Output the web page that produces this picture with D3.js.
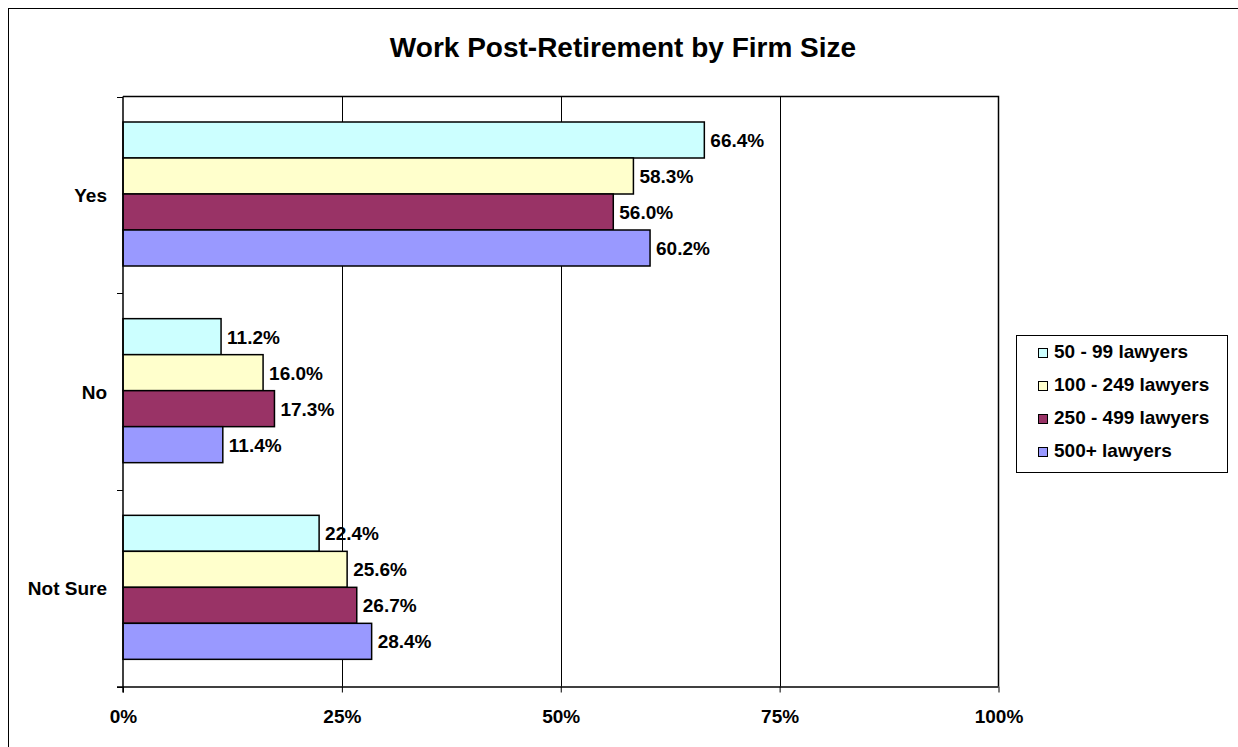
<!DOCTYPE html>
<html>
<head>
<meta charset="utf-8">
<script src="https://cdn.jsdelivr.net/npm/d3@7"></script>
<style>
  body { margin: 0; background: #fff; }
  svg { display: block; font-family: "Liberation Sans", Arial, sans-serif; }
</style>
</head>
<body>
<svg id="chart" width="1238" height="747"></svg>
<script>
const categories = ["Yes", "No", "Not Sure"];
const seriesNames = ["50 - 99 lawyers", "100 - 249 lawyers", "250 - 499 lawyers", "500+ lawyers"];
const seriesColors = ["#CCFFFF", "#FFFFCC", "#993366", "#9999FF"];
const values50to99 = [66.4, 11.2, 22.4];
const values100to249 = [58.3, 16.0, 25.6];
const values250to499 = [56.0, 17.3, 26.7];
const values500plus = [60.2, 11.4, 28.4];
const xTicks = [0, 25, 50, 75, 100];

const seriesValues = [values50to99, values100to249, values250to499, values500plus];
const labelSize = 19;

const svg = d3.select("#chart");

// outer frame
svg.append("rect")
  .attr("x", 8.5).attr("y", 8.5)
  .attr("width", 1240).attr("height", 750)
  .attr("fill", "none").attr("stroke", "#000").attr("stroke-width", 1);

const plot = { left: 123, right: 998.5, top: 96.5, bottom: 686.5 };

const x = d3.scaleLinear().domain([0, 100]).range([plot.left, plot.right]);
const y0 = d3.scaleBand().domain(categories).range([plot.top, plot.bottom]);
const y1 = d3.scaleBand().domain(seriesNames).range([25.5, 169.5]);

// title
svg.append("text")
  .attr("x", 623).attr("y", 57)
  .attr("text-anchor", "middle")
  .attr("font-size", 28).attr("font-weight", "bold")
  .text("Work Post-Retirement by Firm Size");

// vertical gridlines
svg.append("g").selectAll("line")
  .data(xTicks.filter(t => t > 0 && t < 100))
  .join("line")
  .attr("x1", d => Math.round(x(d)) + 0.5).attr("x2", d => Math.round(x(d)) + 0.5)
  .attr("y1", plot.top).attr("y2", plot.bottom)
  .attr("stroke", "#000").attr("stroke-width", 1);

// plot border (top and right)
svg.append("path")
  .attr("d", `M${plot.left},${plot.top}H${plot.right}V${plot.bottom}`)
  .attr("fill", "none").attr("stroke", "#000").attr("stroke-width", 1.5);

// bars
const groups = svg.append("g").selectAll("g")
  .data(categories)
  .join("g")
  .attr("transform", c => `translate(0,${y0(c)})`);

groups.each(function(c, ci) {
  const g = d3.select(this);
  const rows = seriesNames.map((s, si) => ({ s, si, v: seriesValues[si][ci] }));
  g.selectAll("rect")
    .data(rows)
    .join("rect")
    .attr("x", x(0))
    .attr("y", d => y1(d.s))
    .attr("width", d => x(d.v) - x(0))
    .attr("height", y1.bandwidth())
    .attr("fill", d => seriesColors[d.si])
    .attr("stroke", "#000").attr("stroke-width", 1.5);
  g.selectAll("text")
    .data(rows)
    .join("text")
    .attr("x", d => x(d.v) + 6)
    .attr("y", d => y1(d.s) + y1.bandwidth() / 2 + 7)
    .attr("font-size", labelSize).attr("font-weight", "bold")
    .text(d => d.v.toFixed(1) + "%");
});

// x axis
const xAxis = d3.axisBottom(x).tickValues(xTicks).tickFormat(d => d + "%").tickSize(6).tickPadding(17);
const gx = svg.append("g").attr("transform", `translate(0,${plot.bottom})`).call(xAxis);
gx.select(".domain").attr("d", `M${plot.left - 6},0.5H${plot.right}`).attr("stroke-width", 1.5);
gx.selectAll(".tick line").attr("stroke", "#000");
gx.selectAll(".tick text").attr("font-size", labelSize).attr("font-weight", "bold")
  .attr("font-family", "Liberation Sans, Arial, sans-serif").attr("fill", "#000");

// y axis with ticks on band boundaries
const gy = svg.append("g");
gy.append("line")
  .attr("x1", plot.left).attr("x2", plot.left)
  .attr("y1", plot.top).attr("y2", plot.bottom + 6)
  .attr("stroke", "#000").attr("stroke-width", 1.5);
const boundaries = categories.map(c => y0(c)).concat([plot.bottom]);
gy.selectAll(".btick")
  .data(boundaries)
  .join("line")
  .attr("x1", plot.left - 6).attr("x2", plot.left)
  .attr("y1", d => Math.round(d) + 0.5).attr("y2", d => Math.round(d) + 0.5)
  .attr("stroke", "#000").attr("stroke-width", 1);
gy.selectAll("text")
  .data(categories)
  .join("text")
  .attr("x", 107)
  .attr("y", c => y0(c) + y0.bandwidth() / 2 + 7)
  .attr("text-anchor", "end")
  .attr("font-size", labelSize).attr("font-weight", "bold")
  .text(c => c);

// legend
const legend = svg.append("g");
legend.append("rect")
  .attr("x", 1016.5).attr("y", 335.5)
  .attr("width", 211).attr("height", 137)
  .attr("fill", "#fff").attr("stroke", "#000").attr("stroke-width", 1);
const li = legend.selectAll("g.item")
  .data(seriesNames)
  .join("g")
  .attr("class", "item")
  .attr("transform", (d, i) => `translate(1038,${358 + i * 33})`);
li.append("rect")
  .attr("x", 0.5).attr("y", -9.5)
  .attr("width", 9).attr("height", 9)
  .attr("fill", (d, i) => seriesColors[i])
  .attr("stroke", "#000").attr("stroke-width", 1);
li.append("text")
  .attr("x", 16).attr("y", 0)
  .attr("font-size", labelSize).attr("font-weight", "bold")
  .text(d => d);
</script>
</body>
</html>
